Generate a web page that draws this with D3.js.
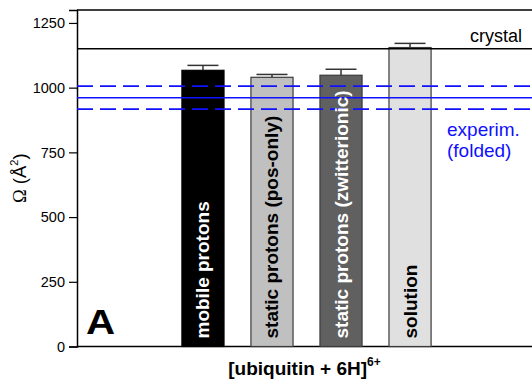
<!DOCTYPE html>
<html>
<head>
<meta charset="utf-8">
<script src="https://cdn.jsdelivr.net/npm/d3@7"></script>
<style>
  body { margin: 0; background: #fff; }
  svg { display: block; font-family: "Liberation Sans", Arial, sans-serif; }
</style>
</head>
<body>
<div id="chart"></div>
<script>
// data
const categories = ['mobile protons', 'static protons (pos-only)', 'static protons (zwitterionic)', 'solution'];
const values = [1067, 1040, 1048, 1155];
const errors = [19, 11, 23, 16];
const barColors = ['#000000', '#c0c0c0', '#606060', '#e0e0e0'];
const labelColors = ['#ffffff', '#000000', '#ffffff', '#000000'];
const yTicks = [0, 250, 500, 750, 1000, 1250];
const crystalValue = 1150;
const experimValue = 961;
const experimBand = [917, 1006];

const width = 532, height = 383;
const margin = { left: 77, top: 10, bottom: 36.5 };
const plotRight = 536;

const svg = d3.select('#chart').append('svg')
    .attr('width', width)
    .attr('height', height);

const y = d3.scaleLinear()
    .domain([0, 1300])
    .range([height - margin.bottom, margin.top]);

const x = d3.scaleBand()
    .domain(categories)
    .range([margin.left, plotRight])
    .paddingInner(0.39)
    .paddingOuter(1.52);

// frame: top line and bottom axis line
svg.append('line')
    .attr('x1', margin.left).attr('x2', width)
    .attr('y1', y(1300)).attr('y2', y(1300))
    .attr('stroke', '#000').attr('stroke-width', 1.5);

svg.append('line')
    .attr('x1', margin.left).attr('x2', width)
    .attr('y1', y(0)).attr('y2', y(0))
    .attr('stroke', '#000').attr('stroke-width', 1.5);

// y axis
const yAxis = svg.append('g')
    .attr('transform', `translate(${margin.left},0)`)
    .call(d3.axisLeft(y).tickValues(yTicks).tickFormat(d3.format('d')).tickSize(8).tickPadding(4));
yAxis.select('.domain').attr('stroke', '#000').attr('stroke-width', 1.5);
yAxis.selectAll('.tick line').attr('stroke', '#000').attr('stroke-width', 1.2);
yAxis.selectAll('.tick text')
    .attr('font-size', 14.5)
    .attr('fill', '#000')
    .attr('font-family', '"Liberation Sans", Arial, sans-serif');

// bars
svg.selectAll('rect.bar')
    .data(categories)
    .enter()
    .append('rect')
    .attr('class', 'bar')
    .attr('x', d => x(d))
    .attr('width', x.bandwidth())
    .attr('y', (d, i) => y(values[i]))
    .attr('height', (d, i) => y(0) - y(values[i]))
    .attr('fill', (d, i) => barColors[i])
    .attr('stroke', (d, i) => i === 0 ? '#000' : '#3a3a3a')
    .attr('stroke-width', 1.2);

// error bars (upper only)
const errG = svg.append('g').attr('stroke', '#333').attr('stroke-width', 1.5);
categories.forEach((c, i) => {
    const cx = x(c) + x.bandwidth() / 2;
    errG.append('line')
        .attr('x1', cx).attr('x2', cx)
        .attr('y1', y(values[i])).attr('y2', y(values[i] + errors[i]));
    errG.append('line')
        .attr('x1', cx - 15.5).attr('x2', cx + 15.5)
        .attr('y1', y(values[i] + errors[i])).attr('y2', y(values[i] + errors[i]));
});

// reference lines
svg.append('line')
    .attr('x1', margin.left).attr('x2', width)
    .attr('y1', y(crystalValue)).attr('y2', y(crystalValue))
    .attr('stroke', '#000').attr('stroke-width', 1.5);

svg.append('line')
    .attr('x1', margin.left).attr('x2', width)
    .attr('y1', y(experimValue)).attr('y2', y(experimValue))
    .attr('stroke', '#1010ff').attr('stroke-width', 1.6);

experimBand.forEach(v => {
    svg.append('line')
        .attr('x1', margin.left).attr('x2', width)
        .attr('y1', y(v)).attr('y2', y(v))
        .attr('stroke', '#1010ff').attr('stroke-width', 1.6)
        .attr('stroke-dasharray', '16,7');
});

// labels inside bars
categories.forEach((c, i) => {
    const cx = x(c) + x.bandwidth() / 2;
    svg.append('text')
        .attr('transform', `translate(${cx},${y(0) - 8}) rotate(-90)`)
        .attr('dominant-baseline', 'central')
        .attr('font-size', 19)
        .attr('font-weight', 'bold')
        .attr('fill', labelColors[i])
        .text(c);
});

// annotations
svg.append('text')
    .attr('x', 522).attr('y', y(crystalValue) - 7)
    .attr('text-anchor', 'end')
    .attr('font-size', 18)
    .text('crystal');

const expText = svg.append('text')
    .attr('x', 447).attr('y', 136)
    .attr('font-size', 19)
    .attr('fill', '#1010ff');
expText.append('tspan').attr('x', 447).text('experim.');
expText.append('tspan').attr('x', 447).attr('dy', 21).text('(folded)');

svg.append('text')
    .attr('transform', 'translate(86,334) scale(1.12,1)')
    .attr('font-size', 36)
    .attr('font-weight', 'bold')
    .text('A');

// axis titles
const xTitle = svg.append('text')
    .attr('x', (margin.left + plotRight) / 2 - 2)
    .attr('y', 375)
    .attr('text-anchor', 'middle')
    .attr('font-size', 19)
    .attr('font-weight', 'bold');
xTitle.append('tspan').text('[ubiquitin + 6H]');
xTitle.append('tspan').attr('font-size', 12).attr('dy', -9).text('6+');

const yTitle = svg.append('text')
    .attr('transform', `translate(26,${(y(0) + y(1300)) / 2}) rotate(-90)`)
    .attr('text-anchor', 'middle')
    .attr('font-size', 18.5);
yTitle.append('tspan').attr('font-family', '"Liberation Serif", "Times New Roman", serif').text('Ω');
yTitle.append('tspan').text(' (Å');
yTitle.append('tspan').attr('font-size', 11).attr('dy', -8).text('2');
yTitle.append('tspan').attr('dy', 8).text(')');
</script>
</body>
</html>
